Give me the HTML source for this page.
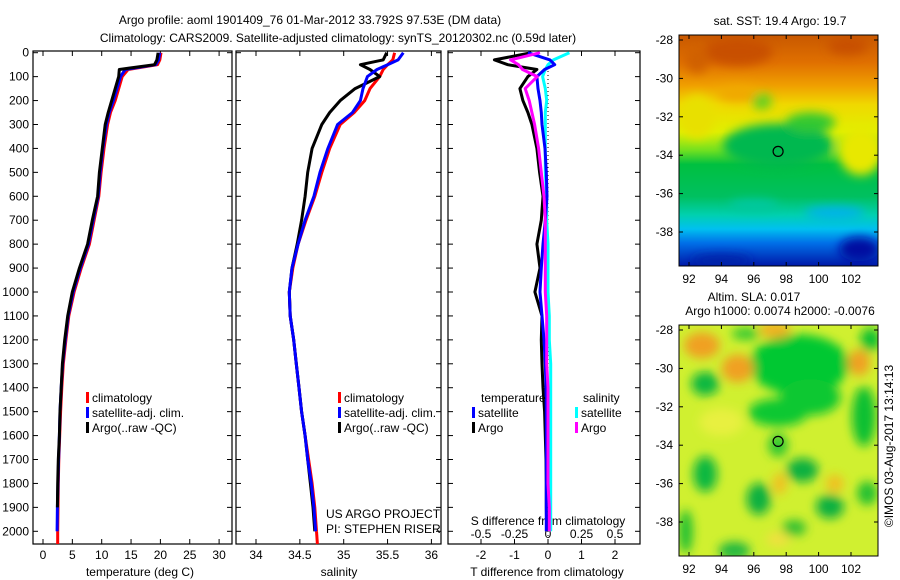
<!DOCTYPE html>
<html><head><meta charset="utf-8"><style>
body{margin:0;background:#fff;}
svg{display:block;font-family:"Liberation Sans",sans-serif;font-size:12px;}
</style></head><body>
<svg id="c" width="900" height="580" viewBox="0 0 900 580">
<defs><filter id="bl" x="-20%" y="-20%" width="140%" height="140%"><feGaussianBlur stdDeviation="5"/></filter>
<linearGradient id="sstg" x1="0" y1="0" x2="0" y2="1">
<stop offset="0" stop-color="#c85800"/><stop offset="0.12" stop-color="#e07000"/><stop offset="0.22" stop-color="#f0a000"/>
<stop offset="0.3" stop-color="#f0d800"/><stop offset="0.42" stop-color="#e0f000"/><stop offset="0.5" stop-color="#70e020"/>
<stop offset="0.56" stop-color="#00c040"/><stop offset="0.7" stop-color="#00c060"/><stop offset="0.78" stop-color="#00d0b0"/>
<stop offset="0.84" stop-color="#00c0f0"/><stop offset="0.9" stop-color="#0070e8"/><stop offset="1" stop-color="#0018a8"/></linearGradient>
<clipPath id="cm1"><rect x="679" y="35" width="199" height="231"/></clipPath>
<clipPath id="cm2"><rect x="679" y="325" width="199" height="231"/></clipPath></defs>
<text x="310" y="24" text-anchor="middle">Argo profile: aoml 1901409_76 01-Mar-2012 33.792S 97.53E (DM data)</text>
<text x="338" y="42" text-anchor="middle">Climatology: CARS2009. Satellite-adjusted climatology: synTS_20120302.nc (0.59d later)</text>
<g id="g"></g>
</svg>
<script>
// depth levels (m)
const depth=[0,30,50,70,100,150,200,250,300,400,500,600,700,800,900,1000,1100,1200,1300,1400,1500,1600,1700,1800,1900,2000];
const tempArgo=[19.6,19.4,19.0,13.0,12.9,12.3,11.7,11.1,10.6,10.1,9.6,9.3,8.4,7.6,6.2,5.0,4.2,3.7,3.3,3.1,2.9,2.8,2.6,2.5,2.45,2.4];
const tempClim=[20.1,19.9,19.5,14.5,13.5,12.9,12.3,11.5,11.0,10.4,9.9,9.5,8.7,7.9,6.5,5.3,4.4,3.9,3.45,3.2,3.0,2.85,2.7,2.6,2.55,2.5];
const tempSat=[19.9,19.7,19.2,14.0,13.2,12.6,12.0,11.3,10.8,10.2,9.75,9.4,8.55,7.75,6.35,5.15,4.3,3.8,3.35,3.1,2.9,2.8,2.65,2.55,2.45,2.4];
const salArgo=[35.49,35.45,35.19,35.3,35.41,35.13,34.96,34.84,34.75,34.64,34.59,34.56,34.52,34.47,34.41,34.38,34.39,34.43,34.46,34.49,34.52,34.56,34.59,34.62,34.65,34.67];
const salClim=[35.58,35.56,35.5,35.45,35.41,35.3,35.24,35.12,34.96,34.84,34.75,34.67,34.57,34.48,34.42,34.38,34.39,34.43,34.46,34.49,34.52,34.56,34.6,34.64,34.67,34.69];
const salSat=[35.68,35.62,35.5,35.38,35.27,35.22,35.19,35.1,34.93,34.82,34.73,34.66,34.56,34.48,34.41,34.38,34.39,34.43,34.46,34.49,34.52,34.56,34.59,34.63,34.66,34.68];
const dTArgo=[-0.5,-1.6,-1.2,-0.33,-0.6,-0.84,-0.75,-0.6,-0.48,-0.33,-0.25,-0.15,-0.2,-0.33,-0.24,-0.39,-0.18,-0.2,-0.18,-0.15,-0.1,-0.08,-0.06,-0.05,-0.05,-0.04];
const dTSat=[-0.6,0.06,0.2,-0.1,-0.33,-0.3,-0.24,-0.2,-0.18,-0.09,-0.05,-0.03,-0.08,-0.15,-0.2,-0.24,-0.18,-0.12,-0.08,-0.06,-0.05,-0.05,-0.05,-0.05,-0.05,-0.05];
const dSArgo=[-0.06,-0.28,-0.22,-0.19,-0.08,-0.17,-0.14,-0.12,-0.1,-0.07,-0.05,-0.03,-0.02,-0.02,-0.02,-0.02,-0.01,-0.01,-0.01,0,0,0,0,0,0.01,0.01];
const dSSat=[0.16,0.04,0,-0.02,-0.04,-0.02,-0.01,-0.02,-0.02,-0.02,-0.02,-0.01,-0.01,0,0,0,0.01,0.01,0.02,0.02,0.02,0.02,0.02,0.02,0.02,0.02];
const depthTicks=[0,100,200,300,400,500,600,700,800,900,1000,1100,1200,1300,1400,1500,1600,1700,1800,1900,2000];
const tempTicks=[0,5,10,15,20,25,30];
const salTicks=[34,34.5,35,35.5,36];
const salTickLabels=["34","34.5","35","35.5","36"];
const dTTicks=[-2,-1,0,1,2];
const dSTicks=[-0.5,-0.25,0,0.25,0.5];
const lonTicks=[92,94,96,98,100,102];
const latTicks=[-28,-30,-32,-34,-36,-38];

const NS="http://www.w3.org/2000/svg";
const G=document.getElementById('g');
function el(t,a,p){const e=document.createElementNS(NS,t);for(const k in a)e.setAttribute(k,a[k]);(p||G).appendChild(e);return e;}
const yD=d=>52.7+d*0.2393;
const xT=v=>43+v*5.87;
const xS=v=>256+(v-34)*87.7;
const xDT=v=>548+v*33.5;
const xDS=v=>548+v*134;
const lonX=l=>689+(l-92)*16.2;
const latY=l=>40+(-28-l)*19.2;
const panels=[{x0:33,x1:232,name:'temperature-panel'},{x0:236,x1:441,name:'salinity-panel'},{x0:448,x1:640,name:'difference-panel'}];
const BOT=544,TOP=51;
panels.forEach((p,i)=>{
  const r=el('rect',{x:p.x0,y:TOP,width:p.x1-p.x0,height:BOT-TOP,fill:'none',stroke:'#000','stroke-width':1.2});
  
  
  depthTicks.forEach(d=>{
    el('line',{x1:p.x0,x2:p.x0+5,y1:yD(d),y2:yD(d),stroke:'#000'});
    el('line',{x1:p.x1-5,x2:p.x1,y1:yD(d),y2:yD(d),stroke:'#000'});
  });
});
depthTicks.forEach(d=>{
  const t=el('text',{x:29,y:yD(d)+4,'text-anchor':'end'});t.textContent=d;
  
  
});
function xticks(vals,labels,fx,ly,name){
  vals.forEach((v,i)=>{
    const x=fx(v);
    el('line',{x1:x,x2:x,y1:TOP,y2:TOP+5,stroke:'#000'});
    el('line',{x1:x,x2:x,y1:BOT-5,y2:BOT,stroke:'#000'});
    const t=el('text',{x:x,y:ly,'text-anchor':'middle'});t.textContent=labels[i];
    
    
  });
}
xticks(tempTicks,tempTicks.map(String),xT,559,'temperature-tick-label');
xticks(salTicks,salTickLabels,xS,559,'salinity-tick-label');
xticks(dTTicks,dTTicks.map(String),xDT,559,'t-diff-tick-label');
dSTicks.forEach(v=>{const t=el('text',{x:xDS(v),y:538,'text-anchor':'middle'});t.textContent=String(v);
  });
function lbl(x,y,s,name,anchor){const t=el('text',{x:x,y:y,'text-anchor':anchor||'middle'});t.textContent=s;return t;}
lbl(140,576,'temperature (deg C)','temperature-axis-title');
lbl(339,576,'salinity','salinity-axis-title');
lbl(547,576,'T difference from climatology','t-diff-axis-title');
lbl(548,525,'S difference from climatology','s-diff-axis-title');
lbl(326,518,'US ARGO PROJECT','project-label','start');
lbl(326,533,'PI: STEPHEN RISER','pi-label','start');
el('line',{x1:548,x2:548,y1:TOP,y2:BOT,stroke:'#000','stroke-dasharray':'1,3'});
function line(xs,fx,color,name,maxD){
  let pts=[];xs.forEach((v,i)=>{if(depth[i]<=maxD)pts.push(fx(v).toFixed(1)+','+yD(depth[i]).toFixed(1));});
  const p=el('polyline',{points:pts.join(' '),fill:'none',stroke:color,'stroke-width':3,'stroke-linejoin':'round'});
  
  
}
line(tempClim,xT,'#f00','temperature-climatology-line',2000);
el('line',{x1:xT(tempClim[25]),x2:xT(tempClim[25]),y1:yD(2000),y2:BOT,stroke:'#f00','stroke-width':3});
line(tempSat,xT,'#00f','temperature-satellite-line',2000);
line(tempArgo,xT,'#000','temperature-argo-line',1990);
line(salClim,xS,'#f00','salinity-climatology-line',2000);
el('line',{x1:xS(salClim[25]),x2:xS(salClim[25]+0.01),y1:yD(2000),y2:BOT,stroke:'#f00','stroke-width':3});
line(salArgo,xS,'#000','salinity-argo-line',2000);
line(salSat,xS,'#00f','salinity-satellite-line',2000);
line(dTArgo,xDT,'#000','t-diff-argo-line',2000);
line(dSSat,xDS,'#0ff','s-diff-satellite-line',2000);
line(dTSat,xDT,'#00f','t-diff-satellite-line',2000);
line(dSArgo,xDS,'#f0f','s-diff-argo-line',2000);
function leg(x,y,color,s,name){
  el('rect',{x:x,y:y-10,width:3,height:11,fill:color});
  lbl(x+6,y,s,name,'start');
}
[[86,'climatology-legend'],[338,'sal-legend']].forEach(([x,n])=>{
  leg(x,402,'#f00','climatology',n+'-climatology');
  leg(x,417,'#00f','satellite-adj. clim.',n+'-satellite');
  leg(x,432,'#000','Argo(..raw -QC)',n+'-argo');
});
lbl(481,402,'temperature','diff-legend-temperature-header','start');
lbl(583,402,'salinity','diff-legend-salinity-header','start');
leg(472,417,'#00f','satellite','diff-legend-t-satellite');
leg(472,432,'#000','Argo','diff-legend-t-argo');
leg(575,417,'#0ff','satellite','diff-legend-s-satellite');
leg(575,432,'#f0f','Argo','diff-legend-s-argo');

function mapFrame(clip,name){
  const g=el('g',{'clip-path':'url(#'+clip+')'});
  
  
  return g;
}
const dy2=290;
const g1=mapFrame('cm1','sst-map');
el('rect',{x:679,y:35,width:199,height:231,fill:'url(#sstg)'},g1);
const b1=el('g',{filter:'url(#bl)'},g1);
[[97.5,-33.5,55,22,'#00b850'],[99.5,-32.3,25,10,'#30c830'],[96.5,-31.2,10,8,'#60d020'],[102.6,-33.8,22,24,'#e8e800'],[92.5,-32,18,22,'#e8e000'],
 [95,-28.6,35,14,'#c85000'],[101.8,-28.3,20,9,'#c85000'],[92.5,-29,12,14,'#d06000'],[95,-30.8,20,8,'#f0a800'],
 [102.5,-38.9,20,12,'#0010a0'],[94,-39.5,30,6,'#0020a8'],[101,-37,30,6,'#00b0f0'],[96,-36.6,25,6,'#00c8a0']
].forEach(a=>el('ellipse',{cx:lonX(a[0]),cy:latY(a[1]),rx:a[2],ry:a[3],fill:a[4]},b1));
const m1=el('ellipse',{cx:lonX(97.5),cy:latY(-33.8),rx:5,ry:5,fill:'none',stroke:'#000','stroke-width':1.2},g1);


const g2=mapFrame('cm2','sla-map');
el('rect',{x:679,y:325,width:199,height:231,fill:'#d0f030'},g2);
const b2=el('g',{filter:'url(#bl)'},g2);
[[98.8,-29.8,50,30,'#00c830'],[97.5,-32.3,30,14,'#10c830'],[99.5,-31.5,30,18,'#10c830'],[102.8,-32.5,12,30,'#10c030'],[103.2,-28.5,10,12,'#10c030'],[93,-30.8,14,12,'#10b840'],[93,-35.5,12,18,'#10b840'],[96.3,-36.8,12,16,'#10b040'],[99,-35.3,16,12,'#10b040'],[100.7,-37.2,14,12,'#10b040'],[94.8,-39.5,16,9,'#20b840'],[91.8,-38.5,7,22,'#20c030'],[103,-36.5,10,12,'#20c030'],[98.5,-38.3,12,8,'#30c030'],[97.5,-34,10,12,'#30c830'],[95.5,-28.2,14,6,'#30c830'],
 [92.8,-28.8,18,13,'#f0a020'],[95,-30,16,14,'#f0a020'],[97.3,-28,16,8,'#f0b020'],[102.5,-29.7,11,13,'#f0a020'],[97.6,-36,7,11,'#f0c020'],[101,-36,9,9,'#f0c020'],[94,-32.8,22,14,'#e8f040'],[97.5,-38.9,12,7,'#f0e040']
].forEach(a=>el('ellipse',{cx:lonX(a[0]),cy:latY(a[1])+dy2,rx:a[2],ry:a[3],fill:a[4]},b2));
const m2=el('ellipse',{cx:lonX(97.5),cy:latY(-33.8)+dy2,rx:5,ry:5,fill:'none',stroke:'#000','stroke-width':1.2},g2);


[0,dy2].forEach(off=>{
  const f=el('rect',{x:679,y:35+off,width:199,height:231,fill:'none',stroke:'#000'});
  
  
  lonTicks.forEach(l=>{const x=lonX(l);el('line',{x1:x,x2:x,y1:35+off,y2:39+off,stroke:'#000'});el('line',{x1:x,x2:x,y1:262+off,y2:266+off,stroke:'#000'});
    lbl(x,283+off,String(l),'map-lon-tick-label');});
  latTicks.forEach(l=>{const y=latY(l)+off;el('line',{x1:679,x2:683,y1:y,y2:y,stroke:'#000'});el('line',{x1:874,x2:878,y1:y,y2:y,stroke:'#000'});
    lbl(673,y+4,String(l),'map-lat-tick-label','end');});
});
lbl(780,25,'sat. SST: 19.4 Argo: 19.7','sst-map-title');
lbl(754,301,'Altim. SLA: 0.017','sla-map-title');
lbl(780,315,'Argo h1000: 0.0074 h2000: -0.0076','sla-map-subtitle');
const im=lbl(0,0,'©IMOS 03-Aug-2017 13:14:13','imos-credit');
im.setAttribute('transform','translate(893,446) rotate(-90)');
</script>
</body></html>
